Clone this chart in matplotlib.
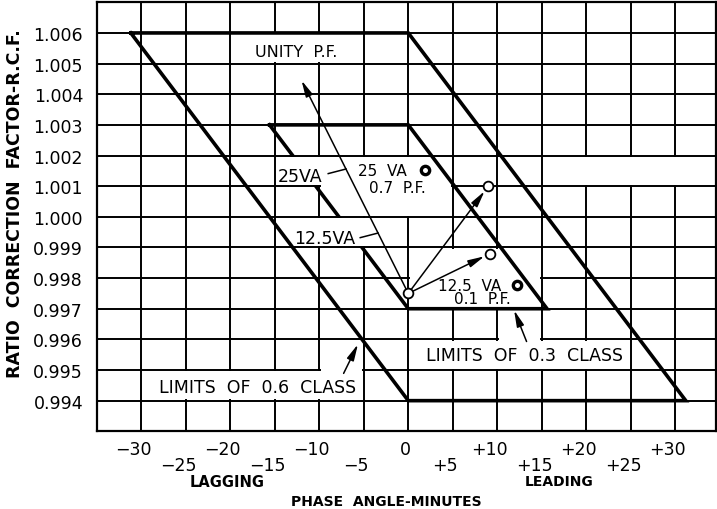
import matplotlib
matplotlib.use('Agg')
import matplotlib.pyplot as plt
import matplotlib.transforms as mtransforms
from matplotlib.patches import Rectangle

# grid of the chart: phase angle (minutes) and ratio correction factor
PHASE_TICKS = [-30, -25, -20, -15, -10, -5, 0, 5, 10, 15, 20, 25, 30]
RCF_TICKS = [0.994, 0.995, 0.996, 0.997, 0.998, 0.999, 1.000,
             1.001, 1.002, 1.003, 1.004, 1.005, 1.006]

# accuracy class limits (parallelograms)
CLASS_06_X = [-31.2, 0.0, 31.2, 0.0, -31.2]
CLASS_06_Y = [1.006, 1.006, 0.994, 0.994, 1.006]
CLASS_03_X = [-15.6, 0.0, 15.6, 0.0, -15.6]
CLASS_03_Y = [1.003, 1.003, 0.997, 0.997, 1.003]

# test points (phase angle, RCF)
UNITY_PF = (0.0, 0.9975)
VA25_PF07 = (9.0, 1.001)
VA125_PF01 = (9.2, 0.9988)
UNITY_TIP = (-12.0, 1.00445)

TEXT_FONT = 'DejaVu Sans'


def white_box(ax, x0, x1, y0, y1, z=1.0):
    dx, dy = 0.16, 0.00004
    ax.add_patch(Rectangle((x0 + dx, y0 + dy), (x1 - x0) - 2 * dx,
                           (y1 - y0) - 2 * dy, facecolor='white',
                           edgecolor='none', zorder=z))


def arrow(ax, tip, tail, sa=0, sb=0):
    ax.annotate('', xy=tip, xytext=tail,
                arrowprops=dict(arrowstyle='-|>,head_length=0.75,head_width=0.17',
                                lw=1.1, color='black', shrinkA=sa, shrinkB=sb,
                                mutation_scale=13),
                zorder=4)


fig = plt.figure(figsize=(7.17, 5.10), dpi=100)
ax = fig.add_axes([97 / 717, 1 - 432.3 / 510, 619 / 717, 429 / 510])
ax.set_xlim(-35, 34.6)
ax.set_ylim(0.993, 1.007)

ax.set_xticks(PHASE_TICKS)
ax.set_yticks(RCF_TICKS)
ax.set_yticklabels([f'{v:.3f}' for v in RCF_TICKS])
ax.tick_params(axis='both', length=0)
ax.tick_params(axis='x', labelbottom=False)
ax.tick_params(axis='y', labelsize=12.5, pad=10)
ax.set_axisbelow(True)
ax.grid(True, color='black', linewidth=1.4)
for s in ax.spines.values():
    s.set_linewidth(1.6)

# areas where the grid is broken for labels
white_box(ax, -20, -5, 1.005, 1.006)
white_box(ax, -15, 5, 1.001, 1.002)
white_box(ax, -10, 5, 1.000, 1.0015)
white_box(ax, -15, 0, 0.999, 1.000)
white_box(ax, 0, 15, 0.997, 0.999)
white_box(ax, 15, 35, 1.001, 1.002)
white_box(ax, 0, 25, 0.995, 0.996)
white_box(ax, 10, 15, 0.9955, 0.997)
white_box(ax, -30, -5, 0.994, 0.995)
white_box(ax, -10, -5, 0.9945, 0.996)

ax.plot(CLASS_03_X, CLASS_03_Y, color='black', lw=2.6, zorder=1.5,
        solid_joinstyle='miter')
# inner diagonal is broken behind the burden labels
white_box(ax, -14.2, -9.9, 1.001, 1.002, z=1.6)
white_box(ax, -8.6, -4.8, 0.999, 1.000, z=1.6)
ax.plot(CLASS_06_X, CLASS_06_Y, color='black', lw=2.6, zorder=2,
        solid_joinstyle='miter')

# unity power factor line and burden arrows
arrow(ax, UNITY_TIP, UNITY_PF, sa=4)
arrow(ax, VA25_PF07, UNITY_PF, sa=4, sb=4.5)
arrow(ax, VA125_PF01, UNITY_PF, sa=4, sb=4.5)
pts = [UNITY_PF, VA25_PF07, VA125_PF01]
ax.plot([p[0] for p in pts], [p[1] for p in pts], 'o', ms=7, mfc='white',
        mec='black', mew=1.3, zorder=5)

# leaders for the burden labels
ax.plot([-9.0, -7.0], [1.00141, 1.00156], color='black', lw=1.1, zorder=4)
ax.plot([-5.4, -3.4], [0.99932, 0.99947], color='black', lw=1.1, zorder=4)

txt = dict(family=TEXT_FONT, ha='center', va='center', zorder=6)
ax.text(-12.6, 1.00538, 'UNITY  P.F.', fontsize=11.5, **txt)
ax.text(-12.2, 1.00132, '25VA', fontsize=12.5, **txt)
ax.text(-9.4, 0.99932, '12.5VA', fontsize=12.5, **txt)
ax.text(-2.9, 1.00152, '25  VA', fontsize=11, **txt)
ax.text(-1.2, 1.00094, '0.7  P.F.', fontsize=11, **txt)
ax.text(6.9, 0.99777, '12.5  VA', fontsize=11, **txt)
ax.text(8.3, 0.99733, '0.1  P.F.', fontsize=11, **txt)
ax.plot([1.9, 12.2], [1.00152, 0.99777], 'o', ms=6, mfc='white', mec='black',
        mew=2.4, zorder=6)
ax.text(-17.0, 0.99444, 'LIMITS  OF  0.6  CLASS', fontsize=12.5, **txt)
ax.text(13.1, 0.99549, 'LIMITS  OF  0.3  CLASS', fontsize=12.5, **txt)
arrow(ax, (-5.66, 0.99584), (-7.27, 0.99489))
arrow(ax, (11.9, 0.99695), (13.3, 0.99593))

# phase angle labels in two staggered rows
trans = mtransforms.blended_transform_factory(ax.transData, ax.transAxes)
for t in PHASE_TICKS:
    if t == 0:
        lab, shift = '0', -2
    else:
        lab, shift = ('\u2212' if t < 0 else '+') + str(abs(t)), -5.5
    dy = -12.7 if t % 10 == 0 else -24
    ax.annotate(lab, xy=(t, 0), xycoords=trans, xytext=(shift, dy),
                textcoords='offset points', ha='center', va='center',
                fontsize=12.5, annotation_clip=False)

bold = dict(family=TEXT_FONT, weight='bold', ha='center', va='center')
fig.text(226.7 / 717, 1 - 482.7 / 510, 'LAGGING', fontsize=10.5, **bold)
fig.text(559 / 717, 1 - 482 / 510, 'LEADING', fontsize=10, **bold)
fig.text(386.5 / 717, 1 - 501.7 / 510, 'PHASE  ANGLE-MINUTES', fontsize=10, **bold)
fig.text(15 / 717, 1 - 204 / 510, 'RATIO  CORRECTION  FACTOR-R.C.F.',
         fontsize=12.5, rotation=90, **bold)

fig.savefig('out.png', dpi=100, facecolor='white')
